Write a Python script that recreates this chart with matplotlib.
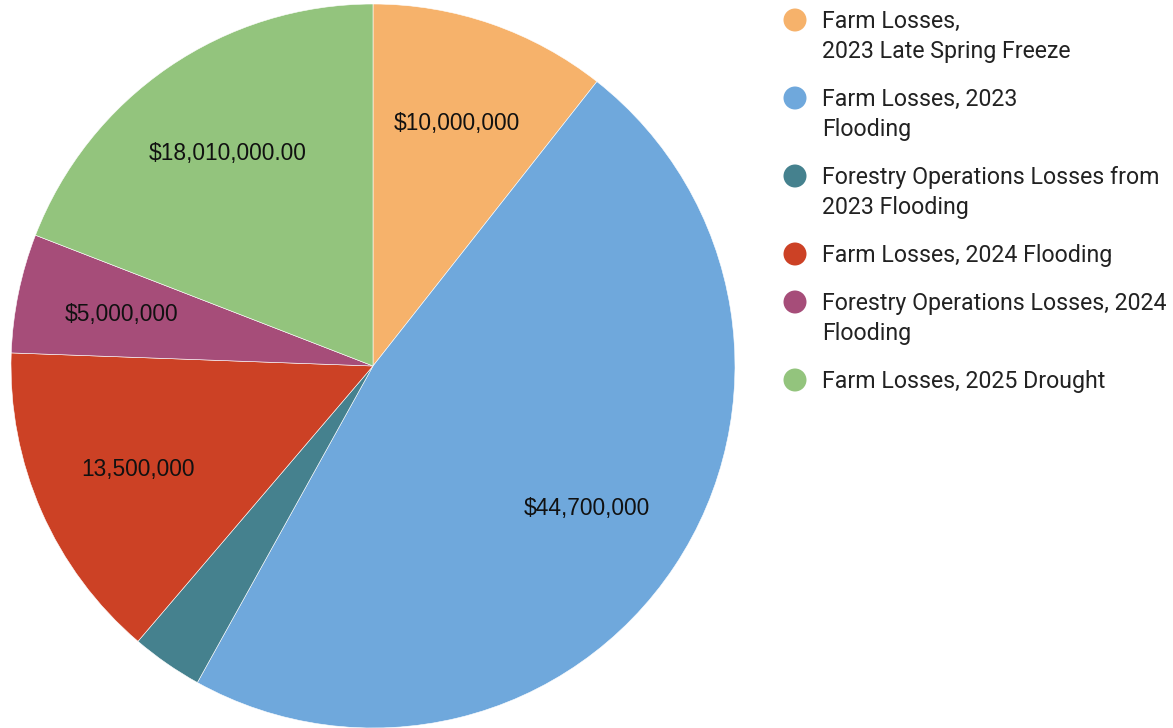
import matplotlib
matplotlib.use("Agg")
import matplotlib.pyplot as plt
from matplotlib.patches import Circle
import numpy as np

W, H = 1173, 728
CX, CY, R = 373, 366, 362  # pie centre / radius in pixels

categories = [
    "Farm Losses,\n2023 Late Spring Freeze",
    "Farm Losses, 2023\nFlooding",
    "Forestry Operations Losses from\n2023 Flooding",
    "Farm Losses, 2024 Flooding",
    "Forestry Operations Losses, 2024\nFlooding",
    "Farm Losses, 2025 Drought",
]
values = [10_000_000, 44_700_000, 3_000_000, 13_500_000, 5_000_000, 18_010_000]
slice_labels = ["$10,000,000", "$44,700,000", "", "13,500,000", "$5,000,000", "$18,010,000.00"]
colors = ["#f6b26b", "#6fa8dc", "#45818e", "#cc4125", "#a64d79", "#93c47d"]


def main():
    fig = plt.figure(figsize=(W / 100, H / 100), dpi=100)
    ax = fig.add_axes([0, 0, 1, 1])

    wedges, _ = ax.pie(values, colors=colors, startangle=90, counterclock=False,
                       radius=1.0, wedgeprops=dict(edgecolor="white", linewidth=0.4))
    ax.set_xlim(-CX / R, (W - CX) / R)
    ax.set_ylim(-(H - CY) / R, CY / R)
    ax.set_aspect("auto")
    ax.axis("off")

    for w, lab in zip(wedges, slice_labels):
        if not lab:
            continue
        ang = np.deg2rad((w.theta1 + w.theta2) / 2)
        d = 0.71
        ax.text(d * np.cos(ang), d * np.sin(ang), lab, ha="center", va="center",
                fontsize=16.4, family="Liberation Sans", color="#111111")

    # legend, drawn by hand so the dot lines up with the first text line
    y = 28
    for lab, c in zip(categories, colors):
        lines = lab.split("\n")
        ax.add_patch(Circle(((795 - CX) / R, (CY - (y - 8)) / R), 11.5 / R,
                            color=c, lw=0, clip_on=False))
        for i, line in enumerate(lines):
            fig.text(822 / W, 1 - (y + 30 * i) / H, line, ha="left", va="baseline",
                     fontsize=16.7, family="Roboto", color="#222222")
        y += 48 + 30 * (len(lines) - 1)

    fig.savefig("out.png", dpi=100)
    plt.close(fig)


if __name__ == "__main__":
    main()
